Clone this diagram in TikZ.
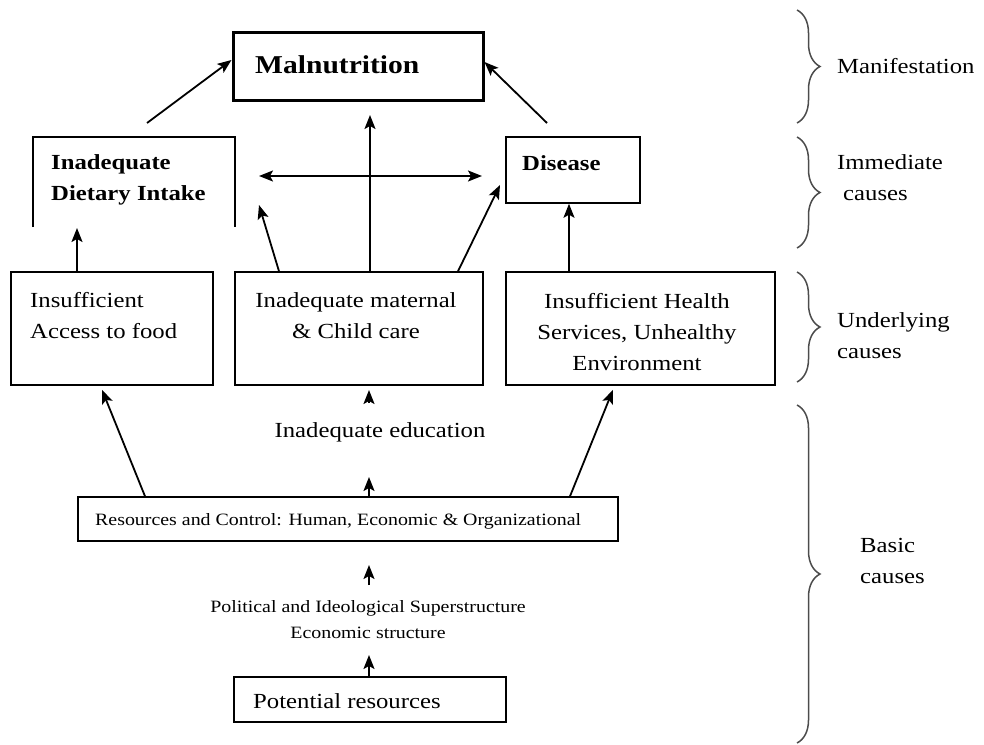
\documentclass[tikz,border=0pt]{standalone}
\usepackage{fontspec}
\setmainfont{Liberation Serif}[FakeStretch=1.15]
\usetikzlibrary{arrows.meta,decorations.pathreplacing}
\newcommand\rowfont{\fontsize{21.5}{31}\selectfont}
\newcommand\notefont{\fontsize{17.3}{26}\selectfont}
\newcommand\headfont{\fontsize{25.7}{30}\selectfont\bfseries}
\tikzset{
  box/.style={draw,line width=1.5pt,inner sep=0pt},
  txt/.style={inner sep=0pt,font=\rowfont},
  tip/.tip={Stealth[length=14pt,width=11pt,inset=3pt]},
  arr/.style={line width=1.8pt,-tip},
  grp/.style={draw=black!70,line width=1.5pt,decorate,decoration={brace,amplitude=23pt}}
}
\begin{document}
\begin{tikzpicture}[x=1pt,y=-1pt]
	\useasboundingbox (0,0) rectangle (984,744);
	% boxes
	\node[box,line width=3pt,minimum width=250pt,minimum height=68pt] (mal) at (358,66) {};
	\node[inner sep=0pt,minimum width=202pt,minimum height=90pt] (diet) at (134,182) {};
	\draw[line width=1.5pt] (diet.south west) -- (diet.north west) -- (diet.north east) -- (diet.south east);
	\node[box,minimum width=134pt,minimum height=66pt] (dis) at (573,170) {};
	\node[box,minimum width=202pt,minimum height=113pt] (food) at (112,328.5) {};
	\node[box,minimum width=248pt,minimum height=113pt] (care) at (359,328.5) {};
	\node[box,minimum width=269pt,minimum height=113pt] (health) at (640.5,328.5) {};
	\node[box,minimum width=540pt,minimum height=44pt] (res) at (348,519) {};
	\node[box,minimum width=272pt,minimum height=45pt] (pot) at (370,699.5) {};
	% texts (multi-line ones sit on their last baseline)
	\node[txt,font=\headfont,anchor=base west] (malt) at (255,73) {Malnutrition};
	\node[txt,font=\rowfont\bfseries,anchor=base west,align=left] (dietT) at (51,200) {Inadequate\\Dietary Intake};
	\node[txt,font=\rowfont\bfseries,anchor=base west] (disT) at (522,170) {Disease};
	\node[txt,anchor=base west,align=left] (foodT) at (30,338) {Insufficient\\Access to food};
	\node[txt,anchor=base,align=center] (careT) at (356,338) {Inadequate maternal\\\& Child care};
	\node[txt,anchor=base,align=center] (healthT) at (637,370) {Insufficient Health\\Services, Unhealthy\\Environment};
	\node[txt,anchor=base] (edu) at (380,437) {Inadequate education};
	\node[txt,font=\notefont,anchor=base west] (resT) at (95,525) {Resources and Control: Human, Economic \& Organizational};
	\node[txt,font=\notefont,anchor=base,align=center] (pol) at (368,638) {Political and Ideological Superstructure\\Economic structure};
	\node[txt,anchor=base west] (potT) at (253,708) {Potential resources};
	% levels
	\node[txt,anchor=base west] (lvl1) at (837,73) {Manifestation};
	\node[txt,anchor=base west,align=left] (lvl2) at (837,200) {Immediate\\\hspace*{6pt}causes};
	\node[txt,anchor=base west,align=left] (lvl3) at (837,358) {Underlying\\causes};
	\node[txt,anchor=base west,align=left] (lvl4) at (860,583) {Basic\\causes};
	\draw[grp] (797,10) -- (797,123);
	\draw[grp] (797,137) -- (797,248);
	\draw[grp] (797,272) -- (797,382);
	\draw[grp] (797,405) -- (797,743);
	% free ends
	\coordinate (dietUp) at (147,123);
	\coordinate (disUp) at (547,123);
	\coordinate (malLow) at (370,115);
	\coordinate (lnkL) at (259,176);
	\coordinate (lnkR) at (482,176);
	\coordinate (dietLow) at (77,228);
	\coordinate (careL) at (259,205);
	\coordinate (disIn) at (500,185);
	\coordinate (eduTop) at (369,403);
	\coordinate (eduUp) at (369,390);
	\coordinate (eduLow) at (369,477);
	\coordinate (polTop) at (369,585);
	\coordinate (polUp) at (369,565);
	\coordinate (polLow) at (369,655);
	% arrows
	\draw[arr] (dietUp) -- ([yshift=6pt]mal.west);
	\draw[arr] (disUp) -- ([yshift=4pt]mal.east);
	\draw[arr] ([xshift=11pt]care.north) -- (malLow);
	\draw[arr,tip-tip] (lnkL) -- (lnkR);
	\draw[arr] ([xshift=-35pt]food.north) -- (dietLow);
	\draw[arr] ([xshift=-80pt]care.north) -- (careL);
	\draw[arr] ([xshift=99pt]care.north) -- (disIn);
	\draw[arr] ([xshift=-71.5pt]health.north) -- ([xshift=-4pt]dis.south);
	\draw[arr] ([xshift=-203pt]res.north) -- ([xshift=-10pt,yshift=-4pt]food.south);
	\draw[arr] ([xshift=222pt]res.north) -- ([xshift=-27.5pt,yshift=-4pt]health.south);
	\draw[arr] (eduTop) -- (eduUp);
	\draw[arr] ([xshift=21pt]res.north) -- (eduLow);
	\draw[arr] (polTop) -- (polUp);
	\draw[arr] ([xshift=-1pt]pot.north) -- (polLow);
\end{tikzpicture}
\end{document}
